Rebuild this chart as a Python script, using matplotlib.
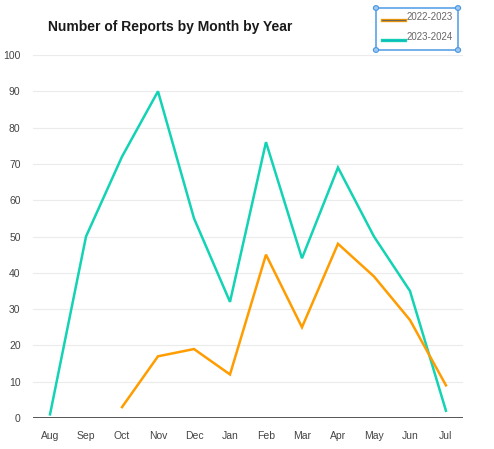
import matplotlib
matplotlib.use('Agg')
import matplotlib.pyplot as plt
import numpy as np
from matplotlib.patches import Rectangle, Circle

months = ['Aug', 'Sep', 'Oct', 'Nov', 'Dec', 'Jan', 'Feb', 'Mar', 'Apr', 'May', 'Jun', 'Jul']
fy2223 = [np.nan, np.nan, 3, 17, 19, 12, 45, 25, 48, 39, 27, 9]
fy2324 = [1, 50, 72, 90, 55, 32, 76, 44, 69, 50, 35, 2]

plt.rcParams['font.family'] = ['Liberation Sans', 'DejaVu Sans']

fig = plt.figure(figsize=(4.94, 4.49), dpi=100)
ax = fig.add_axes([0.067, 0.069, 0.870, 0.8085])

x = np.arange(len(months))
ax.plot(x, fy2324, color='#12d3b3', lw=1.8, solid_joinstyle='miter', zorder=3)
ax.plot(x, fy2223, color='#ff9c00', lw=1.8, solid_joinstyle='miter', zorder=4)

ax.set_xlim(-0.47, 11.47)
ax.set_ylim(0, 100)
ax.set_yticks(range(0, 101, 10))
ax.set_xticks(x)
ax.set_xticklabels(months)
ax.grid(axis='y', color='#ebebeb', lw=0.8)
ax.set_axisbelow(True)
for s in ax.spines.values():
    s.set_visible(False)
ax.axhline(0, color='#555555', lw=1.4, zorder=2)
ax.tick_params(length=0, labelsize=7.5, colors='#444444')
ax.tick_params(axis='y', pad=9)
ax.tick_params(axis='x', pad=9)

fig.text(0.097, 0.94, 'Number of Reports by Month by Year', fontsize=10,
         fontweight='bold', color='#1a1a1a', va='center')

# legend box (shown selected, with handles)
W, H = 494.0, 449.0
bx0, by0, bx1, by1 = 376, 8, 458, 50
fig.patches.append(Rectangle((bx0 / W, 1 - by1 / H), (bx1 - bx0) / W, (by1 - by0) / H,
                             transform=fig.transFigure, fill=False,
                             edgecolor='#5aa2e6', lw=1.2))
for cx, cy in [(bx0, by0), (bx1, by0), (bx0, by1), (bx1, by1)]:
    fig.patches.append(Circle((cx / W, 1 - cy / H), 2.6 / W, transform=fig.transFigure,
                              facecolor='#9cc9f2', edgecolor='#4a94e0', lw=0.8))
for yy, col, inner, lab in [(20, '#ff9c00', '#6b6b55', '2022-2023'),
                            (40, '#12d3b3', '#10b8c0', '2023-2024')]:
    ly = [1 - yy / H, 1 - yy / H]
    fig.lines.append(plt.Line2D([382 / W, 405 / W], ly, transform=fig.transFigure,
                                color=col, lw=2.4))
    fig.lines.append(plt.Line2D([382 / W, 405 / W], ly, transform=fig.transFigure,
                                color=inner, lw=1.0))
    fig.text(407 / W, 1 - (yy - 3) / H, lab, fontsize=7, color='#666666', va='center')

fig.savefig('out.png', dpi=100)
